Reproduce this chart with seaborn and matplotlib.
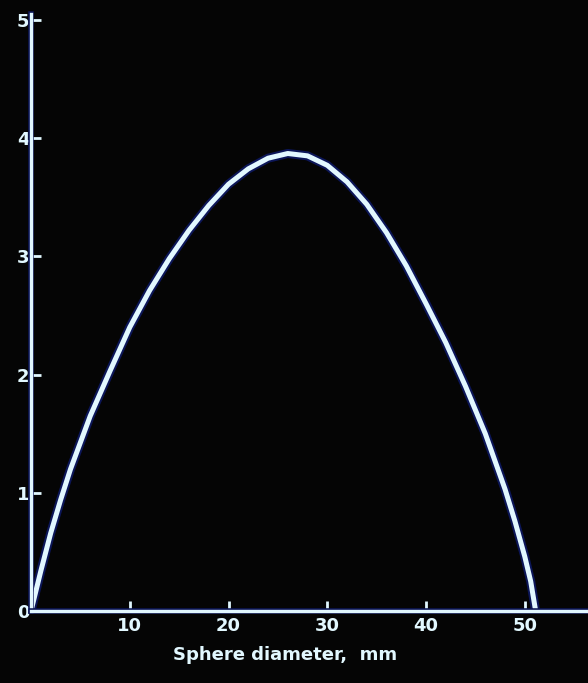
import matplotlib
matplotlib.use("Agg")
import matplotlib.pyplot as plt
import matplotlib.patheffects as pe
import seaborn as sns
import pandas as pd

# Curve values
diameter_mm = [0, 1, 2, 3, 4, 6, 8, 10, 12, 14, 16, 18, 20, 22, 24, 26, 28,
               30, 32, 34, 36, 38, 40, 42, 44, 46, 48, 49, 50, 50.6, 51.1]
value = [0, 0.34, 0.66, 0.94, 1.20, 1.65, 2.03, 2.40, 2.71, 2.98, 3.22, 3.43,
         3.61, 3.74, 3.83, 3.87, 3.85, 3.77, 3.63, 3.44, 3.20, 2.92, 2.60,
         2.27, 1.90, 1.50, 1.03, 0.76, 0.46, 0.25, 0.0]

x_ticks = [10, 20, 30, 40, 50]
x_tick_labels = ["10", "20", "30", "40", "50"]
y_ticks = [0, 1, 2, 3, 4, 5]
y_tick_labels = ["0", "1", "2", "3", "4", "5"]
x_label = "Sphere diameter,  mm"

bg = "#050505"
ink = "#e2f8ff"
glow = "#0c1658"

sns.set_style("dark", {"axes.facecolor": bg, "figure.facecolor": bg,
                       "axes.grid": False})
plt.rcParams["font.family"] = ["DejaVu Sans"]

fig = plt.figure(figsize=(5.88, 6.83), dpi=100)
fig.patch.set_facecolor(bg)
ax = fig.add_axes([31 / 588, 72 / 683, 557 / 588, 597 / 683])
ax.set_facecolor(bg)

df = pd.DataFrame({"d": diameter_mm, "v": value})
sns.lineplot(data=df, x="d", y="v", ax=ax, color=ink, linewidth=3.6,
             solid_capstyle="round", solid_joinstyle="round",
             path_effects=[pe.Stroke(linewidth=6.5, foreground=glow),
                           pe.Normal()])

ax.set_xlim(0, 56.4)
ax.set_ylim(0, 5.05)

for side in ["top", "right"]:
    ax.spines[side].set_visible(False)
for side in ["left", "bottom"]:
    ax.spines[side].set_visible(True)
    ax.spines[side].set_color(ink)
    ax.spines[side].set_linewidth(2.4)
    ax.spines[side].set_path_effects([pe.Stroke(linewidth=4, foreground=glow),
                                      pe.Normal()])

ax.set_xticks(x_ticks)
ax.set_xticklabels(x_tick_labels)
ax.set_yticks(y_ticks)
ax.set_yticklabels(y_tick_labels)
ax.tick_params(axis="both", direction="in", length=7, width=2, color=ink,
               labelcolor=ink, labelsize=13, bottom=True, left=True)
ax.tick_params(axis="y", pad=1)
ax.tick_params(axis="x", pad=4)
for lab in ax.get_xticklabels() + ax.get_yticklabels():
    lab.set_fontweight("bold")

ax.set_xlabel(x_label, color=ink, fontsize=13, fontweight="bold", labelpad=8)
ax.xaxis.set_label_coords((285 - 31) / 557, -0.058)
ax.set_ylabel("")

fig.savefig("out.png", dpi=100, facecolor=bg)
